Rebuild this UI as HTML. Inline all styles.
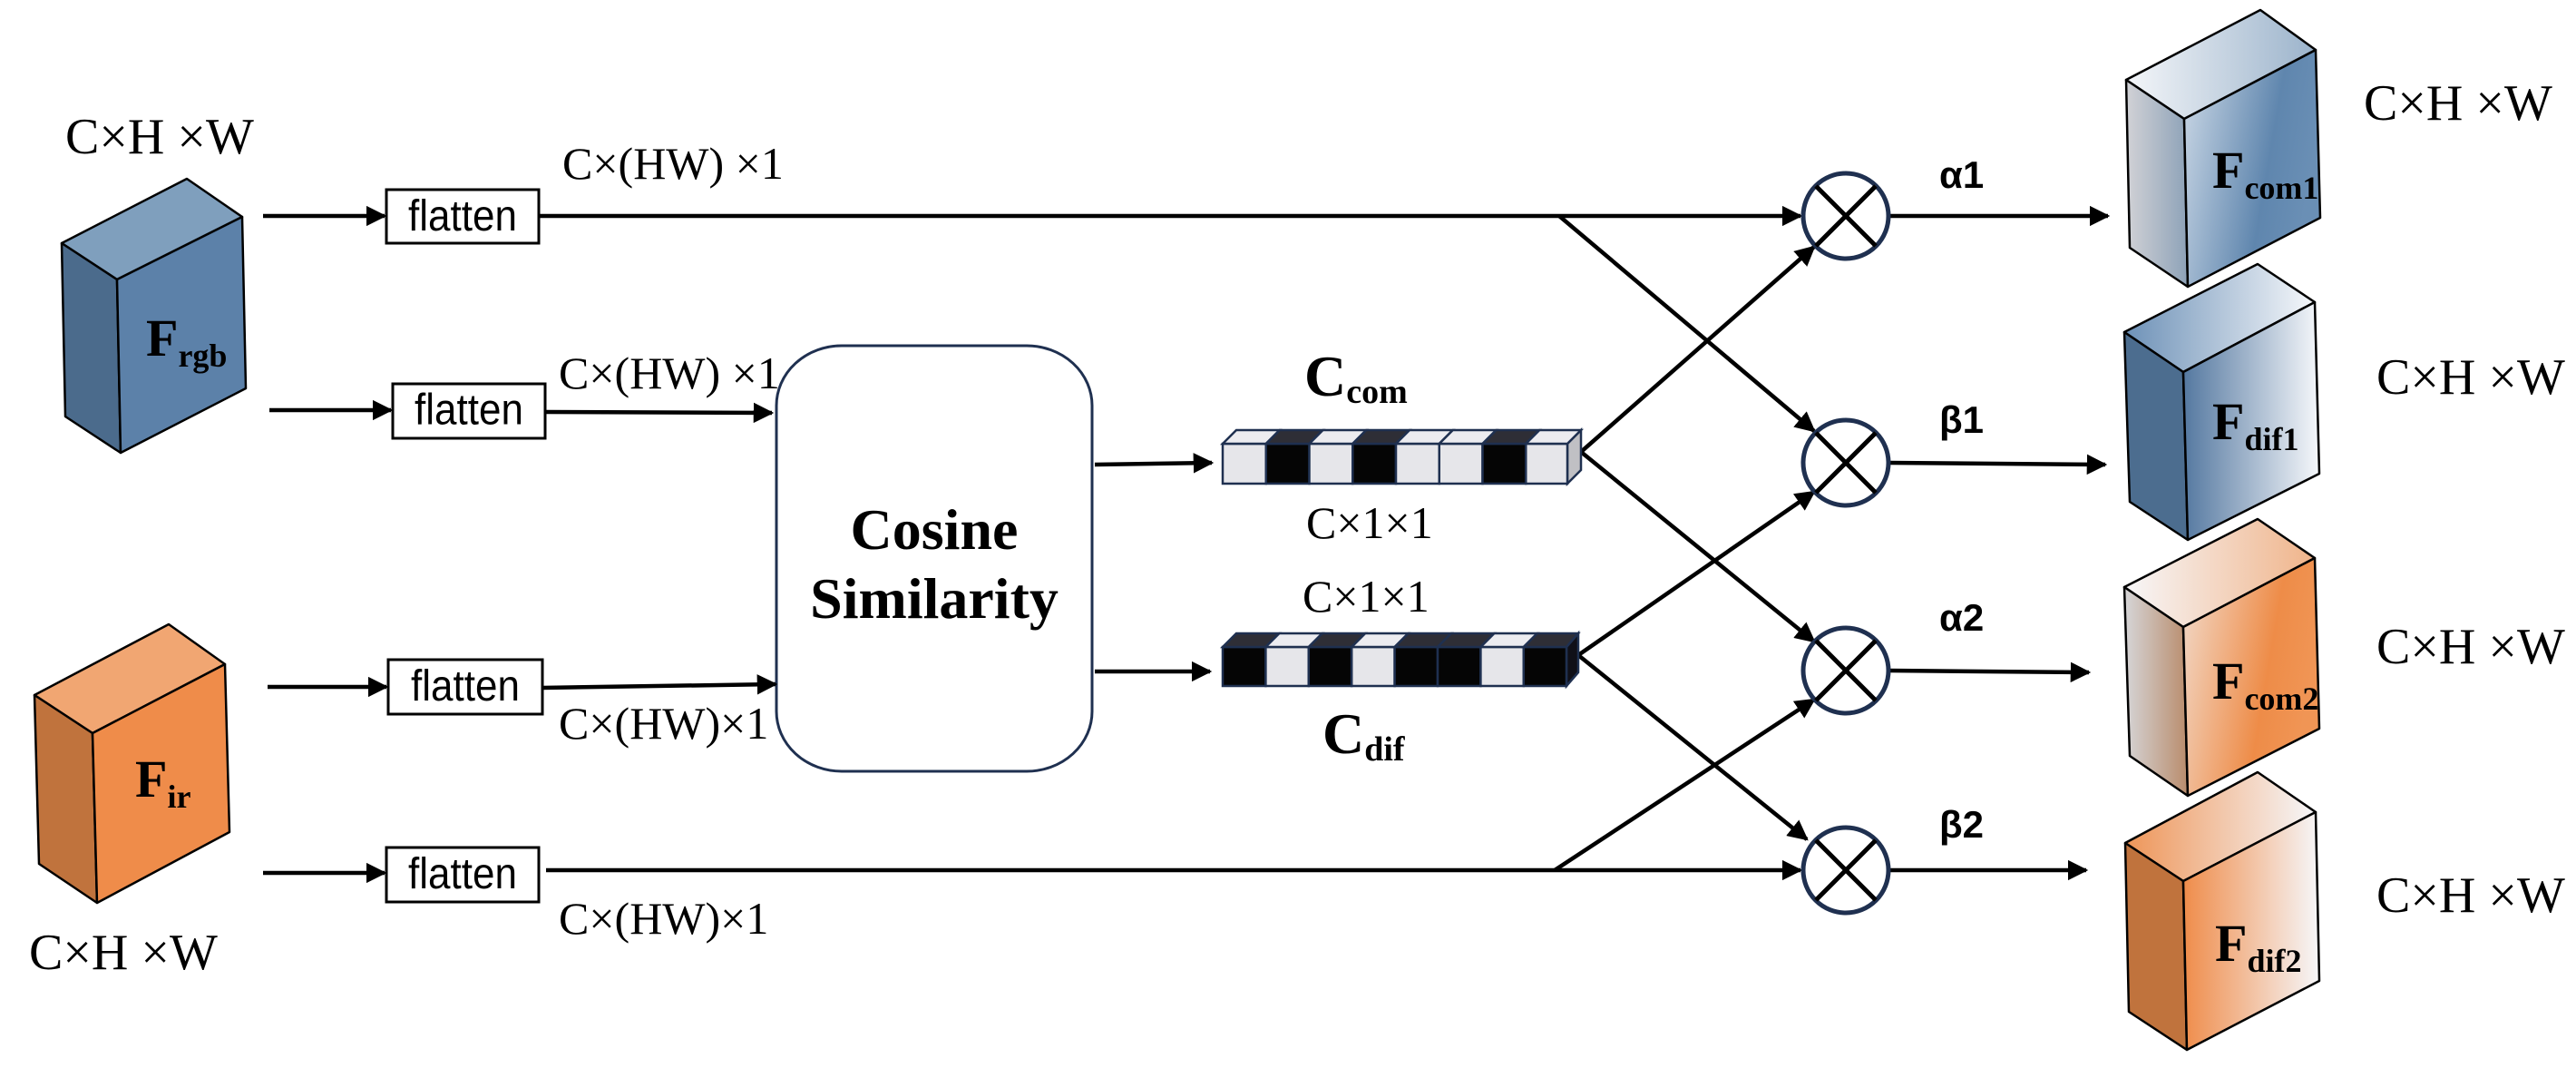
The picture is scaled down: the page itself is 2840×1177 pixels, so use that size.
<!DOCTYPE html>
<html><head><meta charset="utf-8"><style>
html,body{margin:0;padding:0;background:#fff;}
svg{display:block;}
.s{font-family:"Liberation Serif",serif;fill:#000;}
.f{font-family:"Liberation Sans",sans-serif;font-size:44px;fill:#000;}
.b{font-family:"Liberation Serif",serif;font-weight:bold;fill:#000;}
.g{font-family:"Liberation Sans",sans-serif;font-weight:bold;font-size:42px;fill:#000;}
</style></head><body>
<svg width="2840" height="1177" viewBox="0 0 2840 1177" xmlns="http://www.w3.org/2000/svg">
<defs>
<marker id="a" viewBox="0 0 10 10" refX="9" refY="5" markerWidth="5" markerHeight="5" orient="auto" markerUnits="strokeWidth"><path d="M0,0 L10,5 L0,10 z" fill="#000"/></marker>
<linearGradient id="c1f" x1="0" y1="0" x2="1" y2="0.3"><stop offset="0" stop-color="#cfdbe8"/><stop offset="0.7" stop-color="#5f86ae"/><stop offset="1" stop-color="#6a8fb5"/></linearGradient>
<linearGradient id="c1l" x1="0" y1="0" x2="1" y2="0"><stop offset="0" stop-color="#d2d2d6"/><stop offset="1" stop-color="#8da2b8"/></linearGradient>
<linearGradient id="c1t" x1="0" y1="0" x2="1" y2="0"><stop offset="0" stop-color="#f4f6f9"/><stop offset="1" stop-color="#9bb3cb"/></linearGradient>
<linearGradient id="d1f" x1="0" y1="0" x2="1" y2="0"><stop offset="0" stop-color="#5478a0"/><stop offset="1" stop-color="#f6f8fb"/></linearGradient>
<linearGradient id="d1t" x1="0" y1="0" x2="1" y2="0"><stop offset="0" stop-color="#6d91b7"/><stop offset="1" stop-color="#f6f8fb"/></linearGradient>
<linearGradient id="c2f" x1="0" y1="0" x2="1" y2="0.3"><stop offset="0" stop-color="#f2dccd"/><stop offset="0.7" stop-color="#ee8c48"/><stop offset="1" stop-color="#f09555"/></linearGradient>
<linearGradient id="c2l" x1="0" y1="0" x2="1" y2="0"><stop offset="0" stop-color="#d6d6d8"/><stop offset="1" stop-color="#b98c6c"/></linearGradient>
<linearGradient id="c2t" x1="0" y1="0" x2="1" y2="0"><stop offset="0" stop-color="#f7f7f9"/><stop offset="1" stop-color="#f0b48a"/></linearGradient>
<linearGradient id="d2f" x1="0" y1="0" x2="1" y2="0"><stop offset="0" stop-color="#ef8c4a"/><stop offset="1" stop-color="#f6f7fa"/></linearGradient>
<linearGradient id="d2t" x1="0" y1="0" x2="1" y2="0"><stop offset="0" stop-color="#ee9558"/><stop offset="1" stop-color="#f6f7fa"/></linearGradient>
</defs>
<g stroke="#000" stroke-width="2.5" stroke-linejoin="round">
<polygon points="68,268 206,197 267,239 129,308" fill="#7f9fbd"/>
<polygon points="68,268 129,308 133,499 72,459" fill="#4b6b8c"/>
<polygon points="129,308 267,239 271,428 133,499" fill="#5c81a9"/>
<polygon points="38,766 186,688 248,732 102,808" fill="#f1a672"/>
<polygon points="38,766 102,808 107,995 43,952" fill="#c0733d"/>
<polygon points="102,808 248,732 253,917 107,995" fill="#ef8c4a"/>
<polygon points="2344,88 2492,11 2553,55 2408,131" fill="url(#c1t)"/>
<polygon points="2344,88 2408,131 2412,316 2348,273" fill="url(#c1l)"/>
<polygon points="2408,131 2553,55 2558,240 2412,316" fill="url(#c1f)"/>
<polygon points="2342,366 2489,291 2552,333 2407,410" fill="url(#d1t)"/>
<polygon points="2342,366 2407,410 2412,595 2348,553" fill="#4c6d8f"/>
<polygon points="2407,410 2552,333 2557,522 2412,595" fill="url(#d1f)"/>
<polygon points="2342,647 2489,572 2552,615 2407,691" fill="url(#c2t)"/>
<polygon points="2342,647 2407,691 2412,877 2348,833" fill="url(#c2l)"/>
<polygon points="2407,691 2552,615 2557,803 2412,877" fill="url(#c2f)"/>
<polygon points="2343,929 2489,851 2553,895 2407,971" fill="url(#d2t)"/>
<polygon points="2343,929 2407,971 2411,1157 2347,1115" fill="#c0733d"/>
<polygon points="2407,971 2553,895 2557,1081 2411,1157" fill="url(#d2f)"/>
</g>
<text class="b" x="161" y="392" font-size="58">F<tspan font-size="36" dy="12">rgb</tspan></text>
<text class="b" x="149" y="878" font-size="58">F<tspan font-size="36" dy="12">ir</tspan></text>
<text class="b" x="2439" y="207" font-size="58">F<tspan font-size="36" dy="12">com1</tspan></text>
<text class="b" x="2439" y="484" font-size="58">F<tspan font-size="36" dy="12">dif1</tspan></text>
<text class="b" x="2439" y="770" font-size="58">F<tspan font-size="36" dy="12">com2</tspan></text>
<text class="b" x="2442" y="1059" font-size="58">F<tspan font-size="36" dy="12">dif2</tspan></text>
<g class="s" font-size="56">
<text x="72" y="169">C×H ×W</text>
<text x="32" y="1068">C×H ×W</text>
<text x="2606" y="132">C×H ×W</text>
<text x="2620" y="434">C×H ×W</text>
<text x="2620" y="731">C×H ×W</text>
<text x="2620" y="1005">C×H ×W</text>
</g>
<g class="s" font-size="50">
<text x="620" y="197">C×(HW) ×1</text>
<text x="616" y="428">C×(HW) ×1</text>
<text x="616" y="814">C×(HW)×1</text>
<text x="616" y="1029">C×(HW)×1</text>
<text x="1440" y="593">C×1×1</text>
<text x="1436" y="674">C×1×1</text>
</g>
<g fill="#fff" stroke="#000" stroke-width="3">
<rect x="426" y="209" width="168" height="59"/>
<rect x="433" y="423" width="168" height="60"/>
<rect x="428" y="727" width="170" height="60"/>
<rect x="426" y="934" width="168" height="60"/>
</g>
<g class="f" text-anchor="middle" transform="scale(1,1.1)">
<text x="510" y="231">flatten</text>
<text x="517" y="425">flatten</text>
<text x="513" y="702">flatten</text>
<text x="510" y="890">flatten</text>
</g>
<rect x="856" y="381" width="348" height="469" rx="72" ry="66" fill="#fff" stroke="#1f3050" stroke-width="3"/>
<g class="b" font-size="64" text-anchor="middle">
<text x="1030" y="605">Cosine</text>
<text x="1030" y="681">Similarity</text>
</g>
<g stroke="#000" stroke-width="4.5" fill="none">
<line x1="290" y1="238" x2="424" y2="238" marker-end="url(#a)"/>
<line x1="297" y1="452" x2="431" y2="452" marker-end="url(#a)"/>
<line x1="295" y1="757" x2="426" y2="757" marker-end="url(#a)"/>
<line x1="290" y1="962" x2="424" y2="962" marker-end="url(#a)"/>
<line x1="594" y1="238" x2="1985" y2="238" marker-end="url(#a)"/>
<polyline points="601,454 851,455" marker-end="url(#a)"/>
<polyline points="598,758 855,754" marker-end="url(#a)"/>
<line x1="602" y1="959" x2="1985" y2="959" marker-end="url(#a)"/>
<line x1="1207" y1="512" x2="1336" y2="510" marker-end="url(#a)"/>
<line x1="1207" y1="740" x2="1334" y2="740" marker-end="url(#a)"/>
<line x1="1719" y1="238" x2="2000" y2="475" marker-end="url(#a)"/>
<line x1="1743" y1="498" x2="2000" y2="272" marker-end="url(#a)"/>
<line x1="1743" y1="498" x2="2000" y2="707" marker-end="url(#a)"/>
<line x1="1740" y1="722" x2="2000" y2="542" marker-end="url(#a)"/>
<line x1="1740" y1="722" x2="1992" y2="925" marker-end="url(#a)"/>
<line x1="1714" y1="959" x2="2000" y2="771" marker-end="url(#a)"/>
<line x1="2083" y1="238" x2="2324" y2="238" marker-end="url(#a)"/>
<line x1="2083" y1="510" x2="2321" y2="512" marker-end="url(#a)"/>
<line x1="2083" y1="739" x2="2303" y2="741" marker-end="url(#a)"/>
<line x1="2083" y1="959" x2="2300" y2="959" marker-end="url(#a)"/>
</g>
<g stroke-width="5">
<g transform="translate(2035,238)"><circle r="47" fill="#fff" stroke="#1f3050"/><path d="M-33,-33 L33,33 M-33,33 L33,-33" stroke="#000"/></g>
<g transform="translate(2035,510)"><circle r="47" fill="#fff" stroke="#1f3050"/><path d="M-33,-33 L33,33 M-33,33 L33,-33" stroke="#000"/></g>
<g transform="translate(2035,739)"><circle r="47" fill="#fff" stroke="#1f3050"/><path d="M-33,-33 L33,33 M-33,33 L33,-33" stroke="#000"/></g>
<g transform="translate(2035,959)"><circle r="47" fill="#fff" stroke="#1f3050"/><path d="M-33,-33 L33,33 M-33,33 L33,-33" stroke="#000"/></g>
</g>
<g class="g">
<text x="2138" y="207">α1</text>
<text x="2138" y="477">β1</text>
<text x="2138" y="695">α2</text>
<text x="2138" y="923">β2</text>
</g>
<g stroke="#1f3050" stroke-width="2.5">
<polygon points="1728,489 1743,474 1743,518 1728,533" fill="#c0c0c4"/>
<rect x="1348" y="489" width="47.75" height="44" fill="#e6e6ea"/>
<rect x="1395.75" y="489" width="47.75" height="44" fill="#050505"/>
<rect x="1443.5" y="489" width="47.75" height="44" fill="#e6e6ea"/>
<rect x="1491.25" y="489" width="47.75" height="44" fill="#050505"/>
<rect x="1539" y="489" width="47.75" height="44" fill="#e6e6ea"/>
<rect x="1586.75" y="489" width="47.75" height="44" fill="#e6e6ea"/>
<rect x="1634.5" y="489" width="47.75" height="44" fill="#050505"/>
<rect x="1682.25" y="489" width="45.75" height="44" fill="#e6e6ea"/>
<polygon points="1348,489 1363,474 1410.75,474 1395.75,489" fill="#ececf0"/>
<polygon points="1395.75,489 1410.75,474 1458.5,474 1443.5,489" fill="#2e2e36"/>
<polygon points="1443.5,489 1458.5,474 1506.25,474 1491.25,489" fill="#ececf0"/>
<polygon points="1491.25,489 1506.25,474 1554,474 1539,489" fill="#2e2e36"/>
<polygon points="1539,489 1554,474 1601.75,474 1586.75,489" fill="#ececf0"/>
<polygon points="1586.75,489 1601.75,474 1649.5,474 1634.5,489" fill="#ececf0"/>
<polygon points="1634.5,489 1649.5,474 1697.25,474 1682.25,489" fill="#2e2e36"/>
<polygon points="1682.25,489 1697.25,474 1743,474 1728,489" fill="#ececf0"/>
<polygon points="1727,713 1740,698 1740,741 1727,756" fill="#101018"/>
<rect x="1348" y="713" width="47.4" height="43" fill="#050505"/>
<rect x="1395.4" y="713" width="47.4" height="43" fill="#e6e6ea"/>
<rect x="1442.8" y="713" width="47.4" height="43" fill="#050505"/>
<rect x="1490.2" y="713" width="47.4" height="43" fill="#e6e6ea"/>
<rect x="1537.6" y="713" width="47.4" height="43" fill="#050505"/>
<rect x="1585" y="713" width="47.4" height="43" fill="#050505"/>
<rect x="1632.4" y="713" width="47.4" height="43" fill="#e6e6ea"/>
<rect x="1679.8" y="713" width="47.2" height="43" fill="#050505"/>
<polygon points="1348,713 1363,698 1410.4,698 1395.4,713" fill="#2e2e36"/>
<polygon points="1395.4,713 1410.4,698 1457.8,698 1442.8,713" fill="#ececf0"/>
<polygon points="1442.8,713 1457.8,698 1505.2,698 1490.2,713" fill="#2e2e36"/>
<polygon points="1490.2,713 1505.2,698 1552.6,698 1537.6,713" fill="#ececf0"/>
<polygon points="1537.6,713 1552.6,698 1600,698 1585,713" fill="#2e2e36"/>
<polygon points="1585,713 1600,698 1647.4,698 1632.4,713" fill="#2e2e36"/>
<polygon points="1632.4,713 1647.4,698 1694.8,698 1679.8,713" fill="#ececf0"/>
<polygon points="1679.8,713 1694.8,698 1740,698 1727,713" fill="#2e2e36"/>
</g>
<text class="b" x="1438" y="436" font-size="64">C<tspan font-size="38" dy="8">com</tspan></text>
<text class="b" x="1458" y="830" font-size="64">C<tspan font-size="38" dy="8">dif</tspan></text>
</svg>
</body></html>
